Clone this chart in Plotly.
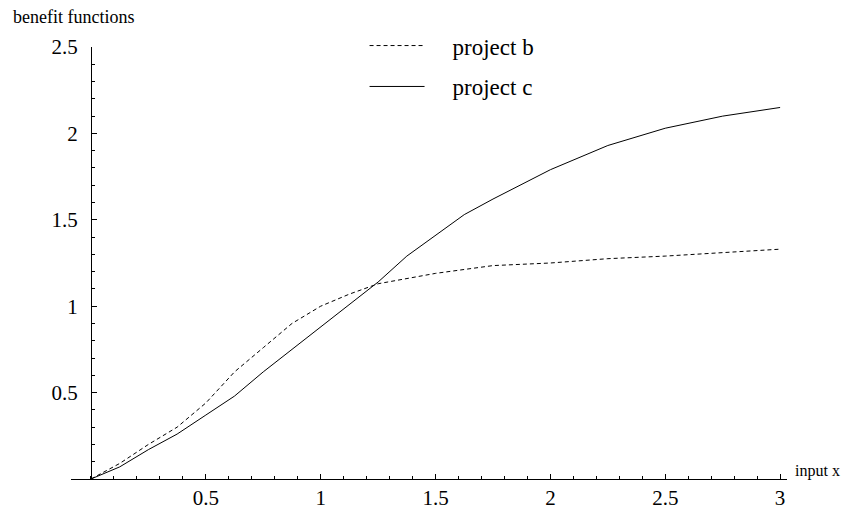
import plotly.graph_objects as go

x_b = [0, 0.125, 0.25, 0.375, 0.5, 0.625, 0.75, 0.875, 1.0, 1.125, 1.25, 1.375, 1.5, 1.75, 2.0, 2.25, 2.5, 2.75, 3.0]
y_b = [0, 0.09, 0.2, 0.3, 0.44, 0.62, 0.76, 0.9, 1.0, 1.07, 1.13, 1.16, 1.19, 1.235, 1.25, 1.275, 1.29, 1.31, 1.33]

x_c = [0, 0.125, 0.25, 0.375, 0.5, 0.625, 0.75, 0.875, 1.0, 1.125, 1.25, 1.375, 1.5, 1.625, 1.75, 2.0, 2.25, 2.5, 2.75, 3.0]
y_c = [0, 0.07, 0.17, 0.26, 0.37, 0.48, 0.62, 0.75, 0.88, 1.01, 1.14, 1.29, 1.41, 1.53, 1.62, 1.79, 1.93, 2.03, 2.10, 2.15]

x_ticks = [0.5, 1, 1.5, 2, 2.5, 3]
x_ticklabels = ["0.5", "1", "1.5", "2", "2.5", "3"]
y_ticks = [0.5, 1, 1.5, 2, 2.5]
y_ticklabels = ["0.5", "1", "1.5", "2", "2.5"]

FONT = "Liberation Serif"
xmin, xmax = -0.087, 3.03
NB = "\u00a0" * 4

fig = go.Figure()
fig.add_trace(go.Scatter(x=x_b, y=y_b, mode="lines", name=NB + "project b", legendgroup="b",
                         line=dict(color="black", width=1, dash="4px,3px")))
fig.add_trace(go.Scatter(x=x_c, y=y_c, mode="lines", name=NB + "project c", legendgroup="c",
                         line=dict(color="black", width=1)))

fig.update_layout(
    width=856, height=519,
    margin=dict(l=63, r=77, t=39, b=48),
    paper_bgcolor="white", plot_bgcolor="white",
    font=dict(family=FONT, size=21, color="black"),
    showlegend=True,
    legend=dict(x=0.41, y=1.053, xanchor="left", yanchor="top",
                bgcolor="rgba(0,0,0,0)", font=dict(family=FONT, size=23),
                itemwidth=55, tracegroupgap=8),
    xaxis=dict(range=[xmin, xmax], showgrid=False, zeroline=False,
               showline=True, linecolor="black", linewidth=1,
               tickvals=x_ticks, ticktext=x_ticklabels,
               ticks="inside", ticklen=5, tickcolor="black", tickwidth=1,
               ticklabelstandoff=0,
               minor=dict(dtick=0.1, tick0=0, ticks="inside", ticklen=3, tickcolor="black", showgrid=False),
               tickfont=dict(family=FONT, size=21)),
    yaxis=dict(range=[0, 2.5], showgrid=False, zeroline=False,
               showline=True, linecolor="black", linewidth=1,
               anchor="free", position=(0 - xmin) / (xmax - xmin),
               tickvals=y_ticks, ticktext=y_ticklabels,
               ticks="inside", ticklen=5, tickcolor="black", tickwidth=1,
               ticklabelstandoff=9,
               minor=dict(dtick=0.1, tick0=0, ticks="inside", ticklen=3, tickcolor="black", showgrid=False),
               tickfont=dict(family=FONT, size=21)),
    annotations=[
        dict(text="benefit functions", xref="paper", yref="paper", x=-0.0835, y=1.0,
             yshift=30, xanchor="left", yanchor="middle", showarrow=False,
             font=dict(family=FONT, size=18)),
        dict(text="input x", xref="paper", yref="paper", x=1.0, y=0.0,
             xshift=6, yshift=8, xanchor="left", yanchor="middle", showarrow=False,
             font=dict(family=FONT, size=16)),
    ],
)

fig.write_html("out.html")
